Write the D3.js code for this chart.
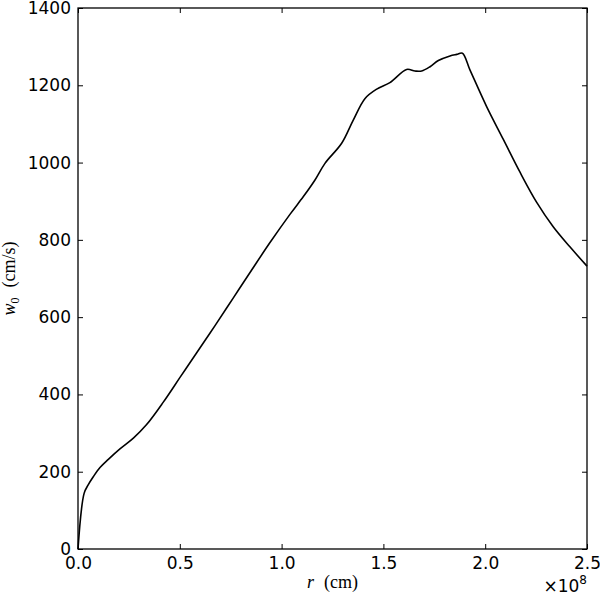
<!DOCTYPE html>
<meta charset="utf-8">
<style>
	body { margin: 0; background: #fff; }
	.axis text { font-family: "DejaVu Sans", sans-serif; font-size: 17px; fill: #000; }
	.axis line { stroke: #000; stroke-width: 1; }
	.frame { fill: none; stroke: #000; stroke-width: 1.3px; }
	.line { fill: none; stroke: #000; stroke-width: 1.6px; }
	.math { font-family: "Liberation Serif", serif; font-size: 18px; fill: #000; }
</style>
<svg id="chart" width="600" height="595"></svg>
<script src="https://d3js.org/d3.v7.min.js"></script>
<script>
	// radius in units of 1e8 cm
	var rVals = [0, 0.03, 0.05, 0.075, 0.108, 0.149, 0.206, 0.272, 0.337, 0.419, 0.501, 0.583,
		0.673, 0.763, 0.853, 0.943, 1.041, 1.107, 1.164, 1.213, 1.295, 1.352, 1.410, 1.467,
		1.532, 1.614, 1.655, 1.688, 1.729, 1.770, 1.827, 1.860, 1.888, 1.925, 2.007, 2.089,
		2.171, 2.253, 2.334, 2.416, 2.5];
	// w0 in cm/s
	var w0Vals = [0, 144, 166, 187, 211, 232, 259, 287, 322, 380, 444, 508,
		578, 650, 722, 793, 866, 912, 955, 998, 1050, 1110, 1166, 1190,
		1207, 1241, 1237, 1237, 1248, 1264, 1276, 1280, 1283, 1240, 1145, 1060,
		975, 897, 834, 782, 732];
	var xTicks = [0, 0.5, 1.0, 1.5, 2.0, 2.5];
	var yTicks = [0, 200, 400, 600, 800, 1000, 1200, 1400];

	var data = rVals.map(function(r, i) { return {r: r, w: w0Vals[i]}; });

	var svg = d3.select("#chart"),
		margin = {top: 8, right: 13, bottom: 46, left: 78},
		width = 600 - margin.left - margin.right,
		height = 595 - margin.top - margin.bottom,
		g = svg.append("g").attr("transform", "translate(" + margin.left + "," + margin.top + ")");

	var x = d3.scaleLinear().domain([0, 2.5]).range([0, width]),
		y = d3.scaleLinear().domain([0, 1400]).range([height, 0]);

	var line = d3.line()
		.curve(d3.curveCatmullRom.alpha(0.5))
		.x(function(d) { return x(d.r); })
		.y(function(d) { return y(d.w); });

	// inward ticks on all four sides
	function noDomain(sel) { sel.select(".domain").remove(); }

	g.append("g").attr("class", "axis")
		.attr("transform", "translate(0," + height + ")")
		.call(d3.axisBottom(x).tickValues(xTicks).tickSizeInner(-5).tickPadding(8).tickFormat(d3.format(".1f")))
		.call(noDomain);
	g.append("g").attr("class", "axis")
		.call(d3.axisTop(x).tickValues(xTicks).tickSizeInner(-5).tickFormat(""))
		.call(noDomain);
	g.append("g").attr("class", "axis")
		.call(d3.axisLeft(y).tickValues(yTicks).tickSizeInner(-5).tickPadding(7).tickFormat(d3.format("d")))
		.call(noDomain);
	g.append("g").attr("class", "axis")
		.attr("transform", "translate(" + width + ",0)")
		.call(d3.axisRight(y).tickValues(yTicks).tickSizeInner(-5).tickFormat(""))
		.call(noDomain);

	g.append("path")
		.datum(data)
		.attr("class", "line")
		.attr("d", line);

	g.append("rect")
		.attr("class", "frame")
		.attr("width", width)
		.attr("height", height);

	// axis labels
	var xl = svg.append("text").attr("class", "math")
		.attr("x", margin.left + width / 2)
		.attr("y", 588)
		.attr("text-anchor", "middle");
	xl.append("tspan").attr("font-style", "italic").text("r");
	xl.append("tspan").attr("dx", 10).text("(cm)");

	var yl = svg.append("text").attr("class", "math")
		.attr("transform", "translate(15," + (margin.top + height / 2) + ") rotate(-90)")
		.attr("text-anchor", "middle");
	yl.append("tspan").attr("font-style", "italic").text("w");
	yl.append("tspan").attr("font-size", "12px").attr("dy", 4).text("0");
	yl.append("tspan").attr("dx", 10).attr("dy", -4).text("(cm/s)");

	// offset text
	var off = svg.append("text")
		.attr("x", 587)
		.attr("y", 592)
		.attr("text-anchor", "end")
		.style("font-family", "DejaVu Sans, sans-serif")
		.style("font-size", "17px");
	off.append("tspan").text("\u00d710");
	off.append("tspan").attr("font-size", "12px").attr("dy", -8).text("8");
</script>
